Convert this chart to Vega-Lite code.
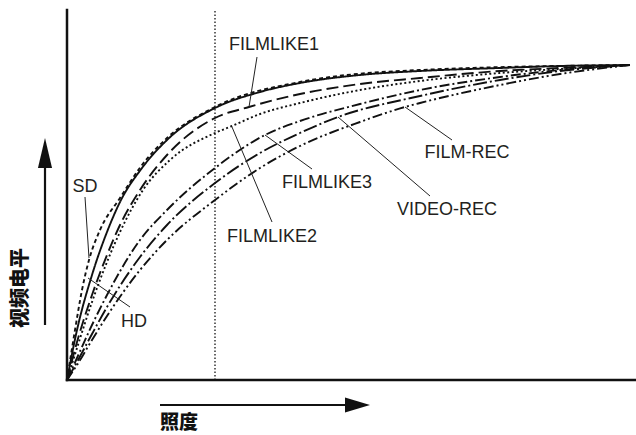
{
  "$schema": "https://vega.github.io/schema/vega-lite/v6.json",
  "width": 569,
  "height": 370,
  "autosize": {"type": "none"},
  "padding": {"left": 67, "top": 10, "right": 0, "bottom": 55},
  "config": {"view": {"stroke": null}},
  "datasets": {
    "curves": [
      {"s": "HD", "x": 0, "y": 0}, {"s": "HD", "x": 10, "y": 50}, {"s": "HD", "x": 25, "y": 105}, {"s": "HD", "x": 40, "y": 148}, {"s": "HD", "x": 53, "y": 178}, {"s": "HD", "x": 75, "y": 212}, {"s": "HD", "x": 100, "y": 240}, {"s": "HD", "x": 148, "y": 272}, {"s": "HD", "x": 193, "y": 288}, {"s": "HD", "x": 233, "y": 297}, {"s": "HD", "x": 293, "y": 305}, {"s": "HD", "x": 353, "y": 309}, {"s": "HD", "x": 433, "y": 312}, {"s": "HD", "x": 493, "y": 314}, {"s": "HD", "x": 563, "y": 315},
      {"s": "SD", "x": 0, "y": 0}, {"s": "SD", "x": 8, "y": 50}, {"s": "SD", "x": 15, "y": 90}, {"s": "SD", "x": 22, "y": 120}, {"s": "SD", "x": 33, "y": 150}, {"s": "SD", "x": 53, "y": 182}, {"s": "SD", "x": 75, "y": 215}, {"s": "SD", "x": 100, "y": 242}, {"s": "SD", "x": 148, "y": 273}, {"s": "SD", "x": 233, "y": 298}, {"s": "SD", "x": 353, "y": 310}, {"s": "SD", "x": 563, "y": 315},
      {"s": "FILMLIKE1", "x": 0, "y": 0}, {"s": "FILMLIKE1", "x": 10, "y": 38}, {"s": "FILMLIKE1", "x": 25, "y": 85}, {"s": "FILMLIKE1", "x": 40, "y": 125}, {"s": "FILMLIKE1", "x": 53, "y": 155}, {"s": "FILMLIKE1", "x": 73, "y": 190}, {"s": "FILMLIKE1", "x": 100, "y": 225}, {"s": "FILMLIKE1", "x": 148, "y": 262}, {"s": "FILMLIKE1", "x": 182, "y": 273}, {"s": "FILMLIKE1", "x": 233, "y": 286}, {"s": "FILMLIKE1", "x": 293, "y": 296}, {"s": "FILMLIKE1", "x": 353, "y": 302}, {"s": "FILMLIKE1", "x": 433, "y": 309}, {"s": "FILMLIKE1", "x": 493, "y": 312}, {"s": "FILMLIKE1", "x": 563, "y": 315},
      {"s": "FILMLIKE2", "x": 0, "y": 0}, {"s": "FILMLIKE2", "x": 10, "y": 32}, {"s": "FILMLIKE2", "x": 25, "y": 78}, {"s": "FILMLIKE2", "x": 40, "y": 118}, {"s": "FILMLIKE2", "x": 53, "y": 148}, {"s": "FILMLIKE2", "x": 76, "y": 190}, {"s": "FILMLIKE2", "x": 103, "y": 220}, {"s": "FILMLIKE2", "x": 148, "y": 247}, {"s": "FILMLIKE2", "x": 165, "y": 254}, {"s": "FILMLIKE2", "x": 193, "y": 266}, {"s": "FILMLIKE2", "x": 233, "y": 277}, {"s": "FILMLIKE2", "x": 293, "y": 290}, {"s": "FILMLIKE2", "x": 353, "y": 299}, {"s": "FILMLIKE2", "x": 433, "y": 307}, {"s": "FILMLIKE2", "x": 493, "y": 311}, {"s": "FILMLIKE2", "x": 563, "y": 315},
      {"s": "FILMLIKE3", "x": 0, "y": 0}, {"s": "FILMLIKE3", "x": 10, "y": 22}, {"s": "FILMLIKE3", "x": 25, "y": 55}, {"s": "FILMLIKE3", "x": 40, "y": 85}, {"s": "FILMLIKE3", "x": 73, "y": 140}, {"s": "FILMLIKE3", "x": 100, "y": 170}, {"s": "FILMLIKE3", "x": 148, "y": 212}, {"s": "FILMLIKE3", "x": 198, "y": 245}, {"s": "FILMLIKE3", "x": 233, "y": 259}, {"s": "FILMLIKE3", "x": 293, "y": 276}, {"s": "FILMLIKE3", "x": 353, "y": 290}, {"s": "FILMLIKE3", "x": 433, "y": 303}, {"s": "FILMLIKE3", "x": 493, "y": 310}, {"s": "FILMLIKE3", "x": 563, "y": 315},
      {"s": "VIDEO-REC", "x": 0, "y": 0}, {"s": "VIDEO-REC", "x": 10, "y": 18}, {"s": "VIDEO-REC", "x": 25, "y": 46}, {"s": "VIDEO-REC", "x": 40, "y": 73}, {"s": "VIDEO-REC", "x": 73, "y": 123}, {"s": "VIDEO-REC", "x": 100, "y": 155}, {"s": "VIDEO-REC", "x": 148, "y": 197}, {"s": "VIDEO-REC", "x": 193, "y": 227}, {"s": "VIDEO-REC", "x": 233, "y": 247}, {"s": "VIDEO-REC", "x": 271, "y": 263}, {"s": "VIDEO-REC", "x": 353, "y": 284}, {"s": "VIDEO-REC", "x": 433, "y": 300}, {"s": "VIDEO-REC", "x": 493, "y": 309}, {"s": "VIDEO-REC", "x": 563, "y": 315},
      {"s": "FILM-REC", "x": 0, "y": 0}, {"s": "FILM-REC", "x": 10, "y": 15}, {"s": "FILM-REC", "x": 25, "y": 40}, {"s": "FILM-REC", "x": 40, "y": 64}, {"s": "FILM-REC", "x": 73, "y": 110}, {"s": "FILM-REC", "x": 100, "y": 140}, {"s": "FILM-REC", "x": 148, "y": 180}, {"s": "FILM-REC", "x": 193, "y": 212}, {"s": "FILM-REC", "x": 233, "y": 234}, {"s": "FILM-REC", "x": 293, "y": 258}, {"s": "FILM-REC", "x": 338, "y": 273}, {"s": "FILM-REC", "x": 353, "y": 277}, {"s": "FILM-REC", "x": 433, "y": 295}, {"s": "FILM-REC", "x": 493, "y": 306}, {"s": "FILM-REC", "x": 563, "y": 315}
    ],
    "labels": [
      {"t": "FILMLIKE1", "x": 207, "y": 335},
      {"t": "FILMLIKE2", "x": 205, "y": 143},
      {"t": "FILMLIKE3", "x": 260, "y": 197},
      {"t": "FILM-REC", "x": 400, "y": 227},
      {"t": "VIDEO-REC", "x": 380, "y": 170},
      {"t": "SD", "x": 18, "y": 193},
      {"t": "HD", "x": 67, "y": 58}
    ],
    "leaders": [
      {"x": 190, "y": 323, "x2": 182, "y2": 273},
      {"x": 205, "y": 158, "x2": 165, "y2": 253},
      {"x": 245, "y": 211, "x2": 198, "y2": 245},
      {"x": 363, "y": 184, "x2": 271, "y2": 263},
      {"x": 385, "y": 240, "x2": 338, "y2": 273},
      {"x": 18, "y": 183, "x2": 22, "y2": 122},
      {"x": 63, "y": 73, "x2": 21, "y2": 102}
    ],
    "axes": [
      {"x": 0, "y": 0, "x2": 0, "y2": 370},
      {"x": 0, "y": 0, "x2": 569, "y2": 0}
    ],
    "arrows": [
      {"x": -22, "y": 55, "x2": -22, "y2": 215},
      {"x": 93, "y": -25, "x2": 281, "y2": -25}
    ]
  },
  "layer": [
    {
      "data": {"values": [{"x": 148, "y": 0, "y2": 370}]},
      "mark": {"type": "rule", "color": "#000", "strokeWidth": 1.2, "strokeDash": [1.5, 2]},
      "encoding": {
        "x": {"field": "x", "type": "quantitative", "scale": {"domain": [0, 569], "nice": false, "zero": false}, "axis": null},
        "y": {"field": "y", "type": "quantitative", "scale": {"domain": [0, 370], "nice": false, "zero": false}, "axis": null},
        "y2": {"field": "y2"}
      }
    },
    {
      "data": {"name": "curves"},
      "mark": {"type": "line", "color": "#111", "strokeWidth": 1.9, "interpolate": "monotone"},
      "encoding": {
        "x": {"field": "x", "type": "quantitative", "scale": {"domain": [0, 569], "nice": false, "zero": false}, "axis": null},
        "y": {"field": "y", "type": "quantitative", "scale": {"domain": [0, 370], "nice": false, "zero": false}, "axis": null},
        "detail": {"field": "s"},
        "strokeDash": {
          "field": "s", "type": "nominal", "legend": null,
          "scale": {
            "domain": ["HD", "SD", "FILMLIKE1", "FILMLIKE2", "FILMLIKE3", "VIDEO-REC", "FILM-REC"],
            "range": [[1, 0], [4, 3], [12, 5], [2, 2.5], [10, 3, 2, 3], [14, 3, 2, 3], [10, 3, 2, 3, 2, 3]]
          }
        }
      }
    },
    {
      "data": {"name": "leaders"},
      "mark": {"type": "rule", "color": "#222", "strokeWidth": 1},
      "encoding": {
        "x": {"field": "x", "type": "quantitative", "scale": {"domain": [0, 569], "nice": false, "zero": false}, "axis": null},
        "y": {"field": "y", "type": "quantitative", "scale": {"domain": [0, 370], "nice": false, "zero": false}, "axis": null},
        "x2": {"field": "x2"},
        "y2": {"field": "y2"}
      }
    },
    {
      "data": {"name": "axes"},
      "mark": {"type": "rule", "color": "#111", "strokeWidth": 2.5, "strokeCap": "square"},
      "encoding": {
        "x": {"field": "x", "type": "quantitative", "scale": {"domain": [0, 569], "nice": false, "zero": false}, "axis": null},
        "y": {"field": "y", "type": "quantitative", "scale": {"domain": [0, 370], "nice": false, "zero": false}, "axis": null},
        "x2": {"field": "x2"},
        "y2": {"field": "y2"}
      }
    },
    {
      "data": {"name": "arrows"},
      "mark": {"type": "rule", "color": "#111", "strokeWidth": 2.2},
      "encoding": {
        "x": {"field": "x", "type": "quantitative", "scale": {"domain": [0, 569], "nice": false, "zero": false}, "axis": null},
        "y": {"field": "y", "type": "quantitative", "scale": {"domain": [0, 370], "nice": false, "zero": false}, "axis": null},
        "x2": {"field": "x2"},
        "y2": {"field": "y2"}
      }
    },
    {
      "data": {"values": [{"x": -22, "y": 227}]},
      "mark": {"type": "point", "filled": true, "color": "#111", "opacity": 1, "size": 900, "shape": "M0,-1L0.47,1L-0.47,1Z"},
      "encoding": {
        "x": {"field": "x", "type": "quantitative", "scale": {"domain": [0, 569], "nice": false, "zero": false}, "axis": null},
        "y": {"field": "y", "type": "quantitative", "scale": {"domain": [0, 370], "nice": false, "zero": false}, "axis": null}
      }
    },
    {
      "data": {"values": [{"x": 290.5, "y": -25}]},
      "mark": {"type": "point", "filled": true, "color": "#111", "opacity": 1, "size": 625, "shape": "M1,0L-1,-0.6L-1,0.6Z"},
      "encoding": {
        "x": {"field": "x", "type": "quantitative", "scale": {"domain": [0, 569], "nice": false, "zero": false}, "axis": null},
        "y": {"field": "y", "type": "quantitative", "scale": {"domain": [0, 370], "nice": false, "zero": false}, "axis": null}
      }
    },
    {
      "data": {"name": "labels"},
      "mark": {"type": "text", "font": "Liberation Sans", "fontSize": 18, "color": "#231f20", "align": "center", "baseline": "middle"},
      "encoding": {
        "x": {"field": "x", "type": "quantitative", "scale": {"domain": [0, 569], "nice": false, "zero": false}, "axis": null},
        "y": {"field": "y", "type": "quantitative", "scale": {"domain": [0, 370], "nice": false, "zero": false}, "axis": null},
        "text": {"field": "t"}
      }
    },
    {
      "data": {"values": [{"t": "视频电平", "x": -46, "y": 92}]},
      "mark": {"type": "text", "font": "Noto Sans CJK SC", "fontWeight": 900, "fontSize": 20, "color": "#111", "align": "center", "baseline": "middle", "angle": 270},
      "encoding": {
        "x": {"field": "x", "type": "quantitative", "scale": {"domain": [0, 569], "nice": false, "zero": false}, "axis": null},
        "y": {"field": "y", "type": "quantitative", "scale": {"domain": [0, 370], "nice": false, "zero": false}, "axis": null},
        "text": {"field": "t"}
      }
    },
    {
      "data": {"values": [{"t": "照度", "x": 112, "y": -43}]},
      "mark": {"type": "text", "font": "Noto Sans CJK SC", "fontWeight": 900, "fontSize": 19, "color": "#111", "align": "center", "baseline": "middle"},
      "encoding": {
        "x": {"field": "x", "type": "quantitative", "scale": {"domain": [0, 569], "nice": false, "zero": false}, "axis": null},
        "y": {"field": "y", "type": "quantitative", "scale": {"domain": [0, 370], "nice": false, "zero": false}, "axis": null},
        "text": {"field": "t"}
      }
    }
  ]
}
